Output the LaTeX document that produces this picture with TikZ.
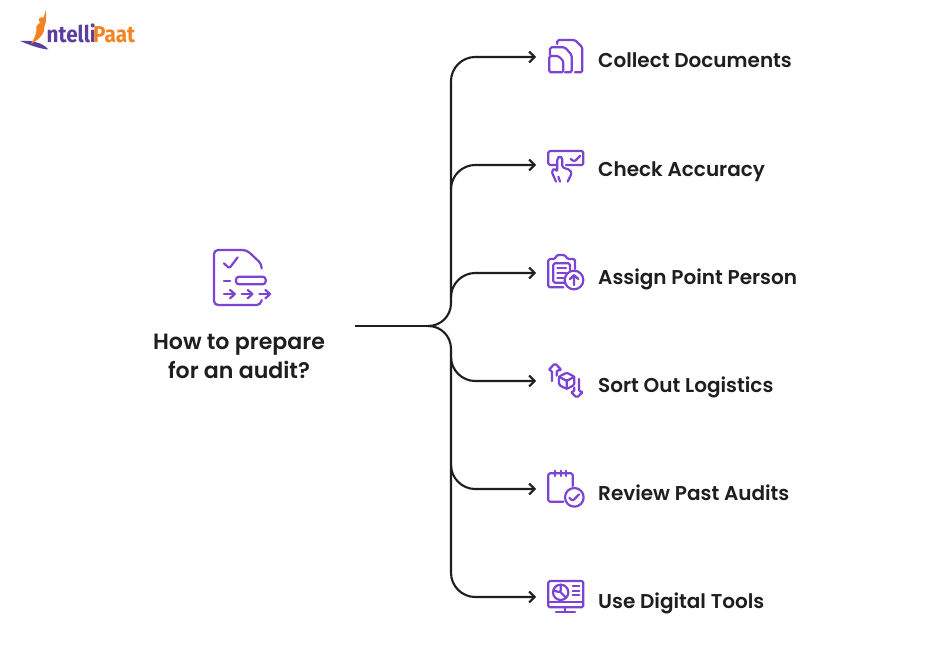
\documentclass[tikz,border=0pt]{standalone}
\usepackage{fontspec}
\setmainfont{Poppins}[BoldFont={Poppins SemiBold}]
\newfontfamily\logofont{Fira Sans}
\usetikzlibrary{arrows.meta}
\definecolor{ink}{HTML}{1E1E1E}
\definecolor{vio}{HTML}{7B44D2}
\definecolor{logoO}{HTML}{F58220}
\definecolor{logoP}{HTML}{5B3F9E}
\tikzset{
  conn/.style={draw=ink,line width=2.1pt,rounded corners=0pt},
  tip/.style={-{Straight Barb[length=5.5pt,width=11pt,line width=2pt]}},
  leaf/.style={anchor=base west,text=ink,font=\fontsize{20}{24}\selectfont\bfseries,inner sep=0pt},
  title/.style={align=center,text=ink,font=\fontsize{22.1}{29}\selectfont\bfseries,inner sep=0pt},
  ico/.style={draw=vio,line width=2.2pt,line join=round,line cap=round,rounded corners=1.5pt},
  logot/.style={anchor=base west,inner sep=0pt,font=\fontsize{23}{24}\logofont\selectfont\bfseries},
}
\begin{document}
\begin{tikzpicture}[x=1pt,y=-1pt]
\useasboundingbox[fill=white] (0,0) rectangle (950,650);
% logo
\fill[logoP] (20,41) .. controls (30,40) and (42,42) .. (48.5,49.5) .. controls (40,49) and (30,45) .. (20,41) -- cycle;
\fill[logoO] (45.8,10) .. controls (46.5,18) and (46,24) .. (44.5,26) .. controls (45,33) and (40,39) .. (31,44) .. controls (35,38) and (37,32) .. (36.5,26) .. controls (38,24) and (43,23) .. (45.8,10) -- cycle;
\fill[logoO] (41.6,20) circle (2.8);
\node[logot,text=logoP,xscale=.9] (logoa) at (46.5,42.5) {ntelli};
\node[logot,text=logoO,xscale=.9] (logob) at (93,42.5) {Paat};
% title
\node[title] (root) at (239,356.5) {How to prepare\\for an audit?};
% leaves
\node[leaf] (t1) at (598,68) {Collect Documents};
\node[leaf] (t2) at (598,176) {Check Accuracy};
\node[leaf] (t3) at (598,284) {Assign Point Person};
\node[leaf] (t4) at (598,392) {Sort Out Logistics};
\node[leaf] (t5) at (598,500) {Review Past Audits};
\node[leaf] (t6) at (598,608) {Use Digital Tools};
% connector anchors
\coordinate (start) at (355,326);
\coordinate (hub) at (428,326);
\coordinate (e1) at (536,57);
\coordinate (e2) at (536,165);
\coordinate (e3) at (536,273);
\coordinate (e4) at (536,381);
\coordinate (e5) at (536,489);
\coordinate (e6) at (536,597);
\draw[conn] (start) -- (hub);
\draw[conn,tip] (hub) .. controls (441,326) and (451,316) .. (451,303) -- (451,81) .. controls (451,68) and (462,57) .. (475,57) -- (e1);
\draw[conn,tip] (451,189) .. controls (451,176) and (462,165) .. (475,165) -- (e2);
\draw[conn,tip] (451,297) .. controls (451,284) and (462,273) .. (475,273) -- (e3);
\draw[conn,tip] (451,357) .. controls (451,370) and (462,381) .. (475,381) -- (e4);
\draw[conn,tip] (451,465) .. controls (451,478) and (462,489) .. (475,489) -- (e5);
\draw[conn,tip] (hub) .. controls (441,326) and (451,336) .. (451,349) -- (451,573) .. controls (451,586) and (462,597) .. (475,597) -- (e6);
% main icon
\begin{scope}[shift={(200,240)},x=.3333pt,y=-.3333pt]
\draw[ico,rounded corners=4pt] (185,85) -- (185,72) -- (140,30) -- (42,30) -- (42,195) -- (182,195) -- (185,180);
\draw[ico] (72,70) -- (88,85) -- (113,52);
\draw[ico] (72,122) -- (90,122);
\draw[ico,rounded corners=3pt] (108,110) rectangle (197,133);
\foreach \a in {72,125,178}{
 \draw[ico] (\a,162) -- ++(33,0);
 \draw[ico] (\a+18,150) -- ++(15,12) -- ++(-15,13);
}
\end{scope}
% collect documents
\begin{scope}[shift={(530,30)},x=.3333pt,y=-.3333pt]
\draw[ico] (82,42) -- (82,30) -- (135,30) -- (157,52) -- (157,127) -- (135,127);
\draw[ico] (60,75) -- (60,52) -- (105,52) -- (125,75) -- (125,127) -- (105,127);
\draw[ico] (58,78) -- (85,78) -- (100,93) -- (100,127) -- (58,127) -- cycle;
\end{scope}
% check accuracy
\begin{scope}[shift={(530,30)},x=.3333pt,y=-.3333pt]
\draw[ico] (80,405) -- (55,405) -- (55,363) -- (160,363) -- (160,405) -- (108,405);
\draw[ico] (122,387) -- (133,395) -- (150,378);
\draw[ico] (78,455) -- (65,425) -- (72,415) -- (82,425) -- (82,385) -- (90,378) -- (97,385) -- (97,412) -- (120,420) -- (125,430) -- (113,455);
\draw[ico] (85,440) -- (90,455);
\end{scope}
% clipboard
\begin{scope}[shift={(530,245)},x=.3333pt,y=-.3333pt]
\draw[ico] (100,127) -- (55,127) -- (55,42) -- (75,42) -- (80,30) -- (105,30) -- (112,42) -- (135,42) -- (135,72);
\draw[ico] (105,113) -- (70,113) -- (70,55) -- (120,55) -- (120,75);
\draw[ico] (82,70) -- (108,70) (82,85) -- (108,85) (82,100) -- (100,100);
\draw[ico] (132,105) circle (28);
\draw[ico] (132,120) -- (132,90) (120,102) -- (132,90) -- (145,102);
\end{scope}
% logistics
\begin{scope}[shift={(530,245)},x=.3333pt,y=-.3333pt]
\draw[ico] (66,408) -- (66,376) -- (55,376) -- (75,355) -- (95,376) -- (80,376) -- (80,392);
\draw[ico] (110,383) -- (133,395) -- (133,420) -- (110,432) -- (87,420) -- (87,395) -- cycle;
\draw[ico] (87,395) -- (110,408) -- (133,395) (110,408) -- (110,432);
\draw[ico] (147,402) -- (147,440) -- (160,440) -- (140,458) -- (122,440) -- (133,440) -- (133,428);
\end{scope}
% calendar
\begin{scope}[shift={(530,460)},x=.3333pt,y=-.3333pt]
\draw[ico] (100,125) -- (55,125) -- (55,40) -- (128,40) -- (128,78);
\draw[ico] (75,32) -- (75,48) (92,32) -- (92,48) (108,32) -- (108,48);
\draw[ico] (133,112) circle (28);
\draw[ico] (118,113) -- (128,123) -- (147,103);
\end{scope}
% screen
\begin{scope}[shift={(530,460)},x=.3333pt,y=-.3333pt]
\draw[ico] (55,363) rectangle (160,442);
\draw[ico] (55,425) -- (160,425);
\draw[ico] (78,455) -- (135,455) (105,442) -- (105,455);
\draw[ico] (92,397) circle (23);
\draw[ico] (92,374) -- (92,397) -- (70,392) (92,397) -- (108,413);
\draw[ico] (128,378) -- (148,378) (128,392) -- (148,392) (128,405) -- (148,405);
\end{scope}
\end{tikzpicture}
\end{document}
